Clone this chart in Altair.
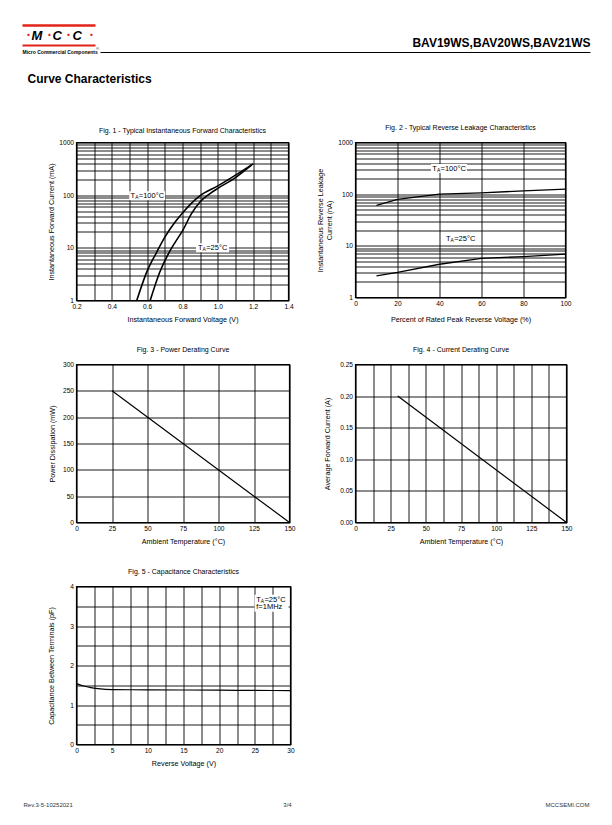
import altair as alt
import pandas as pd

FONT = "Liberation Sans"
RED = "#e2231a"

# ---------------- data ----------------
# Fig 1 - forward characteristics
f1_v_100 = [0.541, 0.598, 0.649, 0.70, 0.755, 0.80, 0.85, 0.90, 1.00, 1.10, 1.20]
f1_i_100 = [1, 3.5, 7.7, 16, 30, 46, 70, 98, 150, 240, 395]
f1_v_25 = [0.617, 0.671, 0.72, 0.76, 0.80, 0.85, 0.90, 0.95, 1.00, 1.10, 1.19]
f1_i_25 = [1, 3.45, 7.7, 13, 21, 44, 75, 104, 135, 215, 370]
f1_x_grid = [0.2, 0.3, 0.4, 0.5, 0.6, 0.7, 0.8, 0.9, 1.0, 1.1, 1.2, 1.3, 1.4]

# Fig 2 - reverse leakage
f2_pct = [10, 20, 40, 60, 80, 100]
f2_i_100 = [61, 79, 100, 106, 116, 125]
f2_i_25 = [2.63, 3.05, 4.4, 5.7, 6.2, 6.9]
f2_x_grid = [0, 20, 40, 60, 80, 100]

log_grid = [1, 2, 3, 4, 5, 6, 7, 8, 9,
            10, 20, 30, 40, 50, 60, 70, 80, 90,
            100, 200, 300, 400, 500, 600, 700, 800, 900, 1000]

# Fig 3 - power derating
f3_t = [25, 150]
f3_p = [250, 0]
f3_x_grid = [0, 25, 50, 75, 100, 125, 150]
f3_y_grid = [0, 50, 100, 150, 200, 250, 300]

# Fig 4 - current derating
f4_t = [30, 150]
f4_i = [0.20, 0.0]
f4_x_grid = [0, 12.5, 25, 37.5, 50, 62.5, 75, 87.5, 100, 112.5, 125, 137.5, 150]
f4_y_grid = [0, 0.05, 0.10, 0.15, 0.20, 0.25]

# Fig 5 - capacitance
f5_v = [0, 1, 2, 3, 5, 10, 15, 20, 25, 30]
f5_c = [1.54, 1.48, 1.44, 1.415, 1.39, 1.385, 1.38, 1.375, 1.37, 1.365]
f5_x_grid = [0, 2.5, 5, 7.5, 10, 12.5, 15, 17.5, 20, 22.5, 25, 27.5, 30]
f5_y_grid = [0, 0.5, 1, 1.5, 2, 2.5, 3, 3.5, 4]

one = pd.DataFrame({"k": [0]})


# ---------------- helpers ----------------
def deco_text(text, x, y, size=7, color="black", weight="normal", style="normal",
              align="left", baseline="alphabetic"):
    return alt.Chart(one).mark_text(
        text=text, fontSize=size, color=color, fontWeight=weight, fontStyle=style,
        align=align, baseline=baseline, font=FONT
    ).encode(x=alt.value(x), y=alt.value(y))


def deco_rule(x1, x2, y, color="black", width=1.0):
    return alt.Chart(one).mark_rule(color=color, strokeWidth=width).encode(
        x=alt.value(x1), x2=alt.value(x2), y=alt.value(y))


def box_shape(x0, x1, h):
    return f"M{x0},{-h}L{x1},{-h}L{x1},{h}L{x0},{h}Z"


def white_box(df, xenc, yenc, width_px, height_px, x0=-1.0):
    r = width_px / 2.0
    h = (height_px / 2.0) / r
    return alt.Chart(df).mark_point(
        shape=box_shape(x0, x0 + 2, round(h, 3)), filled=True, color="white",
        opacity=1, strokeWidth=0, size=(2 * r) ** 2
    ).encode(x=xenc, y=yenc)


def ta_label(df, xenc, yenc, rest, d0, size=7.5):
    """T_A=... label with subscript A"""
    base = alt.Chart(df).encode(x=xenc, y=yenc)
    w_t = 0.611 * size
    sub = size * 0.66
    w_a = 0.667 * sub
    t = base.mark_text(text="T", fontSize=size, font=FONT, color="black",
                       align="left", baseline="middle", dx=d0)
    a = base.mark_text(text="A", fontSize=sub, font=FONT, color="black",
                       align="left", baseline="middle", dx=d0 + w_t, dy=2)
    r = base.mark_text(text=rest, fontSize=size, font=FONT, color="black",
                       align="left", baseline="middle", dx=d0 + w_t + w_a + 0.3)
    return [t, a, r]


def fig_title(text):
    return alt.Title(text, fontSize=7, font=FONT, fontWeight="normal", color="black",
                     anchor="middle", offset=9, frame="group")


LOG_LABEL = "indexof([1,10,100,1000], datum.value) >= 0 ? format(datum.value, 'd') : ''"

# ---------------- Fig 1 ----------------
F1_W, F1_H = 212, 158
df1 = pd.DataFrame({
    "v": f1_v_100 + f1_v_25,
    "i": f1_i_100 + f1_i_25,
    "s": ["100"] * len(f1_v_100) + ["25"] * len(f1_v_25),
})
x1 = alt.X("v:Q", scale=alt.Scale(domain=[0.2, 1.4], nice=False, zero=False),
           axis=alt.Axis(values=f1_x_grid, title="Instantaneous Forward Voltage (V)",
                         labelExpr="round(datum.value*10) % 2 == 0 ? format(datum.value, '.1f') : ''"))
y1 = alt.Y("i:Q", scale=alt.Scale(type="log", domain=[1, 1000], nice=False),
           axis=alt.Axis(values=log_grid, labelExpr=LOG_LABEL, titlePadding=3,
                         title="Instantaneous Forward Current (mA)"))
f1_lines = alt.Chart(df1).mark_line(color="black", strokeWidth=1.6, interpolate="monotone").encode(
    x=x1, y=y1, detail="s:N")
lab100 = pd.DataFrame({"v": [0.60], "i": [98]})
lab25 = pd.DataFrame({"v": [0.97], "i": [10]})

# header / footer decorations (page furniture) + Fig 1 title
header = [
    deco_text("Fig. 1 - Typical Instantaneous Forward Characteristics", F1_W / 2, -9, 7,
              align="center", baseline="bottom"),
    deco_rule(-54, 19, -117, RED, 2.5),
    deco_rule(-54, 19, -97, RED, 2.0),
    deco_text("·", -50, -103, 14, RED, "bold"),
    deco_text("M", -45, -103, 13, "black", "bold", "italic"),
    deco_text("·", -29, -103, 14, RED, "bold"),
    deco_text("C", -24, -103, 13, "black", "bold", "italic"),
    deco_text("·", -10, -103, 14, RED, "bold"),
    deco_text("C", -4, -103, 13, "black", "bold", "italic"),
    deco_text("·", 13, -103, 14, RED, "bold"),
    deco_text("Micro Commercial Components", -54, -88.5, 5, "black", "bold"),
    deco_text("®", 19.5, -93, 4, "black"),
    deco_rule(24, 514, -90, "black", 1.0),
    deco_text("BAV19WS,BAV20WS,BAV21WS", 514, -96, 12, "black", "bold", align="right"),
    deco_text("Curve Characteristics", -49, -60, 12, "black", "bold"),
    deco_text("Rev.3-5-10252021", -53, 664, 6, "#333333"),
    deco_text("3/4", 211, 664, 6, "#333333", align="center"),
    deco_text("MCCSEMI.COM", 513, 664, 6, "#333333", align="right"),
]

fig1 = alt.layer(
    f1_lines,
    white_box(lab100, x1, y1, 36, 9),
    *ta_label(lab100, x1, y1, "=100°C", -16.6),
    white_box(lab25, x1, y1, 33, 9),
    *ta_label(lab25, x1, y1, "=25°C", -14.5),
    *header,
).properties(width=F1_W, height=F1_H)

# ---------------- Fig 2 ----------------
df2 = pd.DataFrame({
    "p": f2_pct + f2_pct,
    "i": f2_i_100 + f2_i_25,
    "s": ["100"] * len(f2_pct) + ["25"] * len(f2_pct),
})
x2 = alt.X("p:Q", scale=alt.Scale(domain=[0, 100], nice=False),
           axis=alt.Axis(values=f2_x_grid, title="Percent of Rated Peak Reverse Voltage (%)", titlePadding=8))
y2 = alt.Y("i:Q", scale=alt.Scale(type="log", domain=[1, 1000], nice=False),
           axis=alt.Axis(values=log_grid, labelExpr=LOG_LABEL, titlePadding=4,
                         title=["Instantaneous Reverse Leakage", "Current (nA)"]))
f2_lines = alt.Chart(df2).mark_line(color="black", strokeWidth=1.3).encode(x=x2, y=y2, detail="s:N")
lab2_100 = pd.DataFrame({"p": [44.5], "i": [313]})
lab2_25 = pd.DataFrame({"p": [50], "i": [13.8]})
fig2 = alt.layer(
    f2_lines,
    white_box(lab2_100, x2, y2, 36, 9),
    *ta_label(lab2_100, x2, y2, "=100°C", -16.6),
    white_box(lab2_25, x2, y2, 33, 9),
    *ta_label(lab2_25, x2, y2, "=25°C", -14.5),
).properties(width=210, height=155, title=fig_title("Fig. 2 - Typical Reverse Leakage Characteristics"))

# ---------------- Fig 3 ----------------
df3 = pd.DataFrame({"t": f3_t, "p": f3_p})
fig3 = alt.Chart(df3).mark_line(color="black", strokeWidth=1.2).encode(
    x=alt.X("t:Q", scale=alt.Scale(domain=[0, 150], nice=False),
            axis=alt.Axis(values=f3_x_grid, title="Ambient Temperature (°C)")),
    y=alt.Y("p:Q", scale=alt.Scale(domain=[0, 300], nice=False),
            axis=alt.Axis(values=f3_y_grid, title="Power Dissipation  (mW)", titlePadding=6)),
).properties(width=213, height=158, title=fig_title("Fig. 3 - Power Derating Curve"))

# ---------------- Fig 4 ----------------
df4 = pd.DataFrame({"t": f4_t, "i": f4_i})
fig4 = alt.Chart(df4).mark_line(color="black", strokeWidth=1.2).encode(
    x=alt.X("t:Q", scale=alt.Scale(domain=[0, 150], nice=False),
            axis=alt.Axis(values=f4_x_grid, title="Ambient Temperature (°C)",
                          labelExpr="datum.value % 25 == 0 ? format(datum.value, 'd') : ''")),
    y=alt.Y("i:Q", scale=alt.Scale(domain=[0, 0.25], nice=False),
            axis=alt.Axis(values=f4_y_grid, format=".2f", title="Average Forward Current (A)", titlePadding=8)),
).properties(width=211, height=158, title=fig_title("Fig. 4 - Current Derating Curve"))

# ---------------- Fig 5 ----------------
df5 = pd.DataFrame({"v": f5_v, "c": f5_c})
x5 = alt.X("v:Q", scale=alt.Scale(domain=[0, 30], nice=False),
           axis=alt.Axis(values=f5_x_grid, title="Reverse Voltage (V)",
                         labelExpr="datum.value % 5 == 0 ? format(datum.value, 'd') : ''"))
y5 = alt.Y("c:Q", scale=alt.Scale(domain=[0, 4], nice=False),
           axis=alt.Axis(values=f5_y_grid, title="Capacitance Between Terminals (pF)", titlePadding=14,
                         labelExpr="datum.value % 1 == 0 ? format(datum.value, 'd') : ''"))
f5_line = alt.Chart(df5).mark_line(color="black", strokeWidth=1.2, interpolate="monotone").encode(x=x5, y=y5)
lab5a = pd.DataFrame({"v": [25.2], "c": [3.67]})
lab5b = pd.DataFrame({"v": [25.2], "c": [3.48]})
lab5box = pd.DataFrame({"v": [25.2], "c": [3.575]})
fig5 = alt.layer(
    f5_line,
    white_box(lab5box, x5, y5, 34, 17, x0=-0.1),
    *ta_label(lab5a, x5, y5, "=25°C", 0),
    alt.Chart(lab5b).mark_text(text="f=1MHz", fontSize=7.5, font=FONT, color="black",
                               align="left", baseline="middle").encode(x=x5, y=y5),
).properties(width=214, height=158, title=fig_title("Fig. 5 - Capacitance Characteristics"))

chart = alt.concat(
    fig1, fig2, fig3, fig4, fig5, columns=2,
    spacing={"row": 64, "column": 65}, bounds="flush",
).properties(
    padding={"left": 12.5, "top": 15.5, "right": 5, "bottom": 5},
    background="white",
).configure_view(
    stroke="black", strokeWidth=1.4,
).configure_axis(
    grid=True, gridColor="black", gridOpacity=1, gridWidth=0.9,
    domain=False, ticks=False, labelFlush=False, labelOverlap=False,
    labelFont=FONT, labelFontSize=6.6, labelColor="black", labelPadding=3,
    titleFont=FONT, titleFontSize=7.2, titleFontWeight="normal", titleColor="black",
    titlePadding=5,
)

chart.save("out.html", embed_options={"renderer": "svg", "actions": False})
